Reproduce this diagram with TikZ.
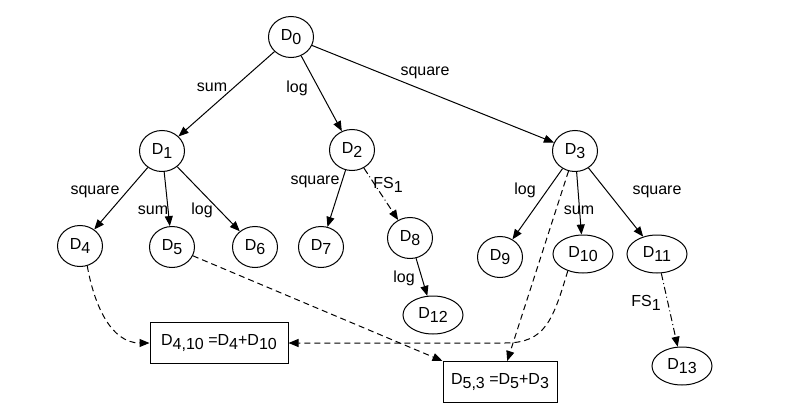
\documentclass[tikz,border=0pt]{standalone}
\usepackage{fontspec}
\setmainfont{Liberation Sans}
\usetikzlibrary{arrows.meta,shapes.geometric}

\newcommand{\withsub}[2]{#1\raisebox{-4pt}{#2}}

\tikzset{
	dnode/.style={ellipse, draw, line width=1pt, minimum width=45pt, minimum height=41pt, inner sep=0pt},
	wnode/.style={dnode, minimum width=60pt, minimum height=38pt},
	sumbox/.style={rectangle, draw, line width=1pt, minimum height=41pt, inner sep=0pt},
	oplink/.style={->, line width=1pt},
	fslink/.style={->, line width=1pt, dash pattern=on 7pt off 3pt on 1pt off 3pt},
	joinlink/.style={->, line width=1pt, dash pattern=on 6pt off 4pt},
}

\begin{document}
\begin{tikzpicture}[x=1pt, y=-1pt, every node/.style={font=\fontsize{16}{19}\selectfont}, >={Triangle[length=10pt,width=8pt]}]
	\useasboundingbox (0,0) rectangle (807,415);
	% datasets
	\node[dnode] (d0) at (291,37) {\withsub{D}{0}};
	\node[dnode] (d1) at (162,151) {\withsub{D}{1}};
	\node[dnode] (d2) at (352,150) {\withsub{D}{2}};
	\node[dnode] (d3) at (575,151) {\withsub{D}{3}};
	\node[dnode] (d4) at (80,246) {\withsub{D}{4}};
	\node[dnode] (d5) at (172,247) {\withsub{D}{5}};
	\node[dnode] (d6) at (255,247) {\withsub{D}{6}};
	\node[dnode] (d7) at (321,247) {\withsub{D}{7}};
	\node[dnode] (d8) at (410,238) {\withsub{D}{8}};
	\node[dnode] (d9) at (500,257) {\withsub{D}{9}};
	\node[wnode] (d10) at (583,254) {\withsub{D}{10}};
	\node[wnode] (d11) at (657,254) {\withsub{D}{11}};
	\node[wnode] (d12) at (433,315) {\withsub{D}{12}};
	\node[wnode] (d13) at (682,366) {\withsub{D}{13}};
	% joined datasets
	\node[sumbox, minimum width=138pt] (sumA) at (219,343) {\withsub{D}{4,10} =\withsub{D}{4}+\withsub{D}{10}};
	\node[sumbox, minimum width=114pt] (sumB) at (500,382) {\withsub{D}{5,3} =\withsub{D}{5}+\withsub{D}{3}};
	% transformations
	\draw[oplink] (d0) -- (d1);
	\draw[oplink] (d0) -- (d2);
	\draw[oplink] (d0) -- (d3);
	\draw[oplink] (d1) -- (d4);
	\draw[oplink] (d1) -- (d5);
	\draw[oplink] (d1) -- (d6);
	\draw[oplink] (d2) -- (d7);
	\draw[fslink] (d2) -- (d8);
	\draw[oplink] (d8) -- (d12);
	\draw[oplink] (d3) -- (d9);
	\draw[oplink] (d3) -- (d10);
	\draw[oplink] (d3) -- (d11);
	\draw[fslink] (d11) -- (d13);
	\node (lsum0) at (212,87) {sum};
	\node (llog0) at (297,88) {log};
	\node (lsq0) at (425,73) {square};
	\node (lsq1) at (95,192) {square};
	\node (lsum1) at (153,210) {sum};
	\node (llog1) at (202,210) {log};
	\node (lsq2) at (315,182) {square};
	\node (lfs2) at (388,185) {\withsub{FS}{1}};
	\node (llog8) at (404,278) {log};
	\node (llog3) at (525,190) {log};
	\node (lsum3) at (579,210) {sum};
	\node (lsq3) at (657,192) {square};
	\node (lfs11) at (646,303) {\withsub{FS}{1}};
	% joins
	\draw[joinlink] (d4.-70) to[out=-80, in=180] (sumA.west);
	\draw[joinlink] (d10.228) .. controls +(-15,50) and +(40,0) .. (505,343) -- (sumA.east);
	\draw[joinlink] (d5) -- (sumB.north west);
	\draw[joinlink] (d3) -- (sumB.71);
\end{tikzpicture}
\end{document}
